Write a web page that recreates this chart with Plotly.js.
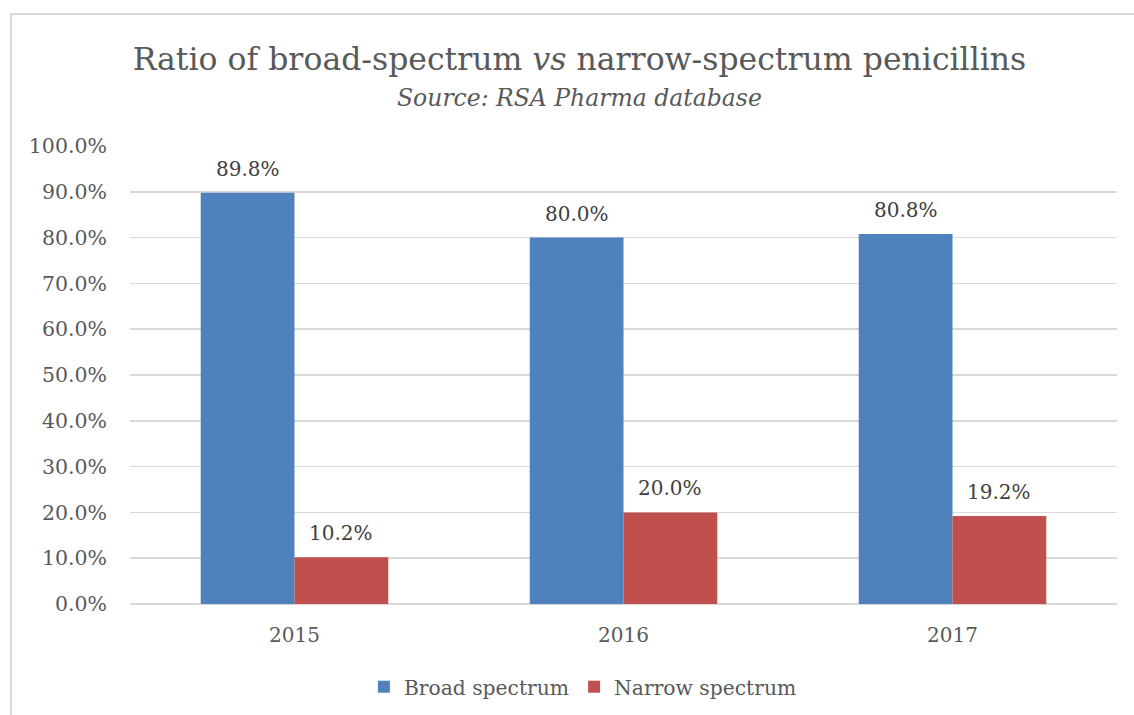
<!DOCTYPE html>
<html>
<head>
<meta charset="utf-8">
<script src="https://cdn.plot.ly/plotly-3.0.1.min.js"></script>
<style>
html,body{margin:0;padding:0;background:#fff;}
#wrap{position:relative;width:1134px;height:715px;overflow:hidden;}
#frame{position:absolute;left:10px;top:13px;width:1140px;height:720px;border-left:2px solid #D9D9D9;border-top:2px solid #D9D9D9;pointer-events:none;}
#chart{position:absolute;left:0;top:0;width:1134px;height:715px;}
</style>
</head>
<body>
<div id="wrap"><div id="chart"></div><div id="frame"></div></div>
<script>
const years = ['2015', '2016', '2017'];
const broadSpectrum = [89.8, 80.0, 80.8];
const narrowSpectrum = [10.2, 20.0, 19.2];
const seriesNames = ['Broad spectrum', 'Narrow spectrum'];
const seriesColors = ['#4F81BD', '#C0504D'];

const FONT = 'DejaVu Serif, Liberation Serif, serif';
const TXT = '#595959';

const W = 1134, H = 715;
const M = {l: 130, r: 17, t: 146, b: 111};
const BARGAP = 0.43;

const mk = (name, vals, color) => ({
  type: 'bar', name: name, x: years, y: vals,
  marker: {color: color, line: {width: 0}},
  hoverinfo: 'x+y'
});

const data = [
  mk(seriesNames[0], broadSpectrum, seriesColors[0]),
  mk(seriesNames[1], narrowSpectrum, seriesColors[1])
];

// data labels placed through the axes (category index), offset by half a bar width within the group
const catW = (W - M.l - M.r) / years.length;
const barW = catW * (1 - BARGAP) / 2;
const labelAnns = [];
[broadSpectrum, narrowSpectrum].forEach((vals, s) => {
  vals.forEach((v, i) => {
    labelAnns.push({
      xref: 'x', yref: 'y', x: i, y: v,
      xshift: (s === 0 ? -1 : 1) * barW / 2, yshift: 24,
      xanchor: 'center', yanchor: 'middle', showarrow: false,
      text: v.toFixed(1) + '%',
      font: {family: FONT, size: 20, color: '#404040'}
    });
  });
});

const layout = {
  width: W, height: H,
  margin: M,
  paper_bgcolor: 'rgba(0,0,0,0)', plot_bgcolor: 'rgba(0,0,0,0)',
  font: {family: FONT, color: TXT},
  barmode: 'group', bargap: BARGAP, bargroupgap: 0,
  title: {text: 'Ratio of broad-spectrum <i>vs</i> narrow-spectrum penicillins',
          font: {family: FONT, size: 31.5, color: TXT}, automargin: false,
          x: 0.511, xref: 'container', xanchor: 'center', y: 0.918, yanchor: 'middle'},
  annotations: [{text: '<i>Source: RSA Pharma database</i>', xref: 'paper', yref: 'paper',
    x: (579 - M.l) / (W - M.l - M.r), y: 1.0, xanchor: 'center', yanchor: 'middle', yshift: 48,
    showarrow: false, font: {family: FONT, size: 23.5, color: TXT}}].concat(labelAnns),
  xaxis: {type: 'category', range: [-0.5, years.length - 0.5], showgrid: false, zeroline: false, showline: false,
          automargin: false,
          ticks: '', tickfont: {family: FONT, size: 20, color: TXT}, ticklabelstandoff: 17},
  yaxis: {range: [0, 100], dtick: 10, tick0: 0, tickformat: '.1f', ticksuffix: '%', automargin: false,
          gridcolor: '#D9D9D9', gridwidth: 1.5, zeroline: true, zerolinecolor: '#D9D9D9', zerolinewidth: 1.5,
          showline: false, ticks: '', tickfont: {family: FONT, size: 20.5, color: TXT}, ticklabelstandoff: 22},
  showlegend: true,
  legend: {orientation: 'h', xref: 'container', x: 0.514, xanchor: 'center',
           yref: 'container', y: (H - 687) / H, yanchor: 'middle',
           font: {family: FONT, size: 20.3, color: TXT}, itemwidth: 30, traceorder: 'normal'}
};

Plotly.newPlot('chart', data, layout, {displayModeBar: false, staticPlot: true});
</script>
</body>
</html>
